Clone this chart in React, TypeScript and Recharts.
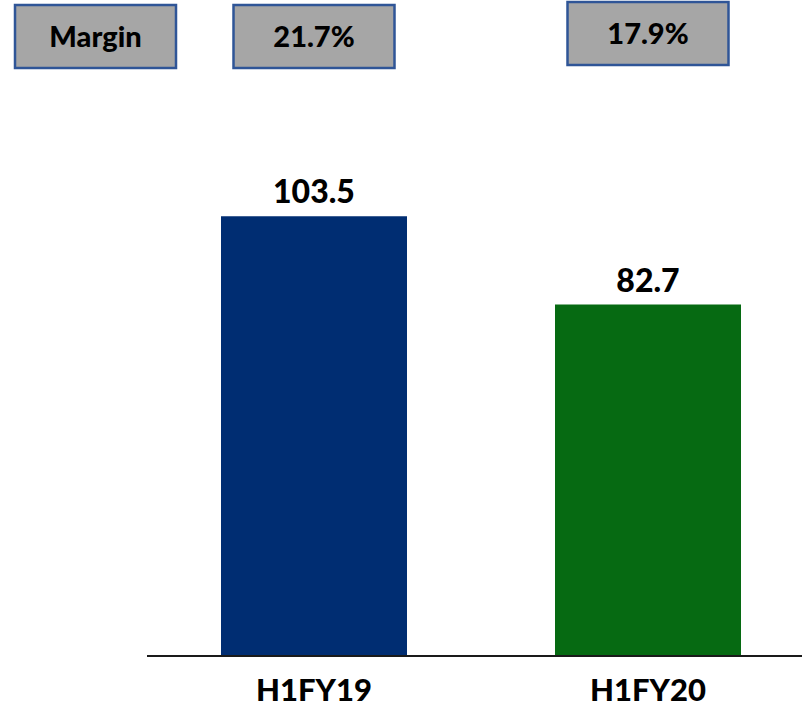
import React from "react";
import { BarChart, Bar, XAxis, YAxis, Cell, LabelList } from "recharts";

const CATEGORIES = ["H1FY19", "H1FY20"];
const VALUES = [103.5, 82.7];
const MARGINS = ["21.7%", "17.9%"];
const MARGIN_TITLE = "Margin";
const BAR_COLORS = ["#002d72", "#066a12"];

const data = CATEGORIES.map((name, i) => ({
  name,
  value: VALUES[i],
  margin: MARGINS[i],
}));

const FONT = "Lato, 'Open Sans', sans-serif";
const BOX_W = 161;
const BOX_H = 63;

const Box = ({ x, y, text }: { x: number; y: number; text: string }) => (
  <g>
    <rect
      x={x}
      y={y}
      width={BOX_W}
      height={BOX_H}
      fill="#a6a6a6"
      stroke="#2f5597"
      strokeWidth={2.5}
    />
    <text
      x={x + BOX_W / 2}
      y={y + 42}
      textAnchor="middle"
      fontFamily={FONT}
      fontWeight={900}
      fontSize={29}
      fill="#000"
    >
      {text}
    </text>
  </g>
);

const MarginBox = (props: any) => {
  const { x, width, value, index } = props;
  const cx = x + width / 2;
  // second box sits a few px higher in the original slide
  const top = index === 0 ? 5 : 2;
  return (
    <g>
      {index === 0 && <Box x={15} y={5} text={MARGIN_TITLE} />}
      <Box x={cx - BOX_W / 2} y={top} text={value} />
    </g>
  );
};

const ValueLabel = (props: any) => {
  const { x, y, width, value } = props;
  return (
    <text
      x={x + width / 2}
      y={y - 13}
      textAnchor="middle"
      fontFamily={FONT}
      fontWeight={900}
      fontSize={32}
      fill="#000"
    >
      {value}
    </text>
  );
};

const CategoryTick = ({ x, y, payload }: any) => (
  <text
    x={x}
    y={y + 43}
    textAnchor="middle"
    fontFamily={FONT}
    fontWeight={900}
    fontSize={31}
    fill="#000"
  >
    {payload.value}
  </text>
);

export default function App() {
  return (
    <div
      style={{
        position: "absolute",
        left: 0,
        top: 0,
        width: 802,
        height: 709,
        overflow: "hidden",
        background: "#fff",
      }}
    >
      <BarChart
        width={815}
        height={709}
        data={data}
        margin={{ top: 146, right: 0, left: 147, bottom: 0 }}
      >
        <XAxis
          dataKey="name"
          height={53}
          tickLine={false}
          tickSize={0}
          axisLine={{ stroke: "#1a1a1a", strokeWidth: 2 }}
          tick={<CategoryTick />}
        />
        <YAxis hide domain={[0, 120]} />
        <Bar dataKey="value" barSize={186} isAnimationActive={false}>
          {data.map((d, i) => (
            <Cell key={d.name} fill={BAR_COLORS[i]} />
          ))}
          <LabelList dataKey="value" content={<ValueLabel />} />
          <LabelList dataKey="margin" content={<MarginBox />} />
        </Bar>
      </BarChart>
    </div>
  );
}
